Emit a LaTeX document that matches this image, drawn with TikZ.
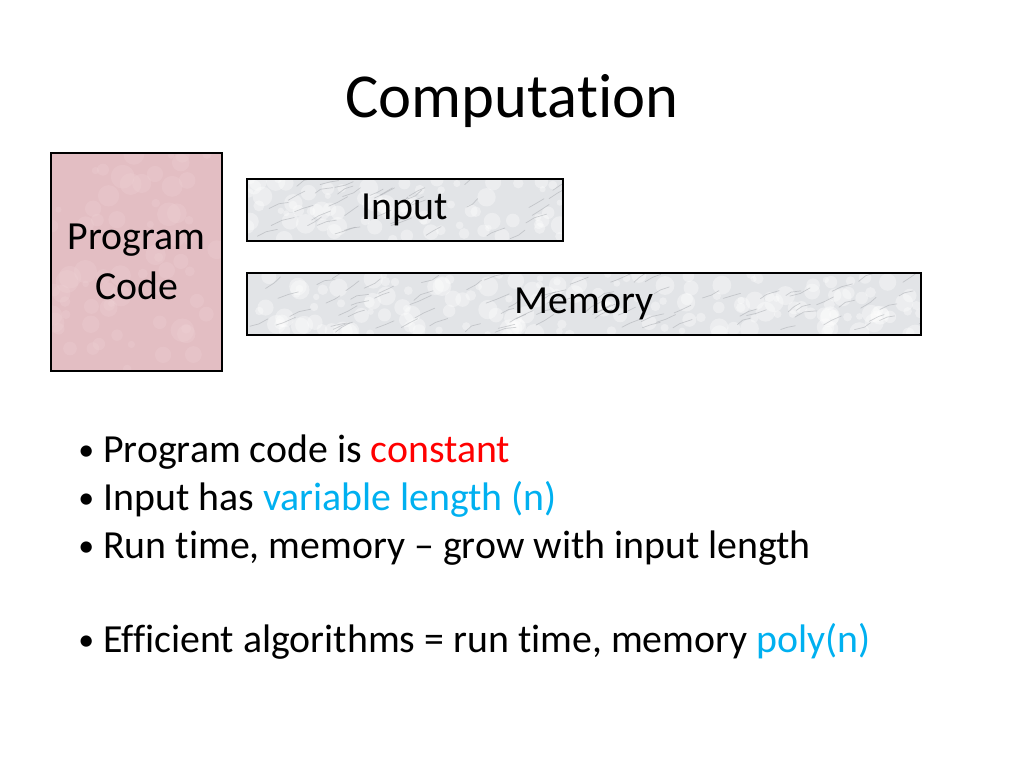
\documentclass[tikz,border=0pt]{standalone}
\usepackage{fontspec}
\setmainfont{Carlito}[Ligatures={NoCommon}]
\usetikzlibrary{positioning}
\definecolor{codepink}{RGB}{227,190,195}
\definecolor{blotch}{RGB}{240,212,215}
\definecolor{marble}{RGB}{226,228,231}
\definecolor{vein}{RGB}{165,168,173}
\definecolor{hlred}{RGB}{255,0,0}
\definecolor{hlblue}{RGB}{0,176,240}
\tikzset{
  slidetext/.style={
    inner sep=0pt,
    font=\fontsize{28}{35}\selectfont
  },
  codebox/.style={
    rectangle,
    draw=black, line width=1.5pt,
    fill=codepink,
    align=center,
    font=\fontsize{28}{35}\selectfont,
    path picture={
      \foreach \k in {1,...,70}{
        \fill[blotch, opacity=0.25]
          ([shift={(rnd*171,rnd*218)}]path picture bounding box.north west)
          circle[radius=3+rnd*9];
      }
    }
  },
  marblebox/.style={
    rectangle,
    draw=black, line width=1.5pt,
    fill=marble,
    font=\fontsize{28}{34}\selectfont,
    path picture={
      \pgfmathtruncatemacro{\nspots}{#1/4}
      \pgfmathtruncatemacro{\nveins}{#1/8}
      \foreach \k in {1,...,\nspots}{
        \fill[white, opacity=0.35]
          ([shift={(rnd*#1,rnd*62)}]path picture bounding box.north west)
          circle[radius=3+rnd*7];
      }
      \foreach \k in {1,...,\nveins}{
        \draw[vein, line width=0.5pt, opacity=0.5, line cap=round]
          ([shift={(rnd*#1,5+rnd*55)}]path picture bounding box.north west)
          -- ++(5+rnd*6,-2-rnd*4) -- ++(5+rnd*8,-1-rnd*5);
      }
    }
  },
  bullet/.style={
    slidetext,
    anchor=base west
  }
}
\newcommand{\bul}{\makebox[17.6pt][l]{\raisebox{1pt}{\scalebox{0.8}{\textbullet}}}}

\begin{document}
\begin{tikzpicture}[x=0.703125pt, y=-0.703125pt]
\pgfmathsetseed{11}
\useasboundingbox (0,0) rectangle (1024,768);

% nodes
\node[slidetext, anchor=base, font=\fontsize{44}{52}\selectfont] (title) at (512,118) {Computation};

\node[codebox, minimum width=120.2pt, minimum height=153.3pt] (code) at (136.5,262) {Program\\Code};

\node[marblebox=316, minimum width=222.2pt, minimum height=43.6pt] (in) at (405,210) {Input};

\node[marblebox=674, minimum width=473.9pt, minimum height=43.6pt] (mem) at (584,304) {Memory};

% bullets
\node[bullet] (b1) at (78,462) {\bul Program code is \textcolor{hlred}{constant}};
\node[bullet] (b2) at (78,510) {\bul Input has \textcolor{hlblue}{variable length (n)}};
\node[bullet] (b3) at (78,558) {\bul Run time, memory -- grow with input length};
\node[bullet] (b4) at (78,652) {\bul Efficient algorithms = run time, memory \textcolor{hlblue}{poly(n)}};

\end{tikzpicture}
\end{document}
